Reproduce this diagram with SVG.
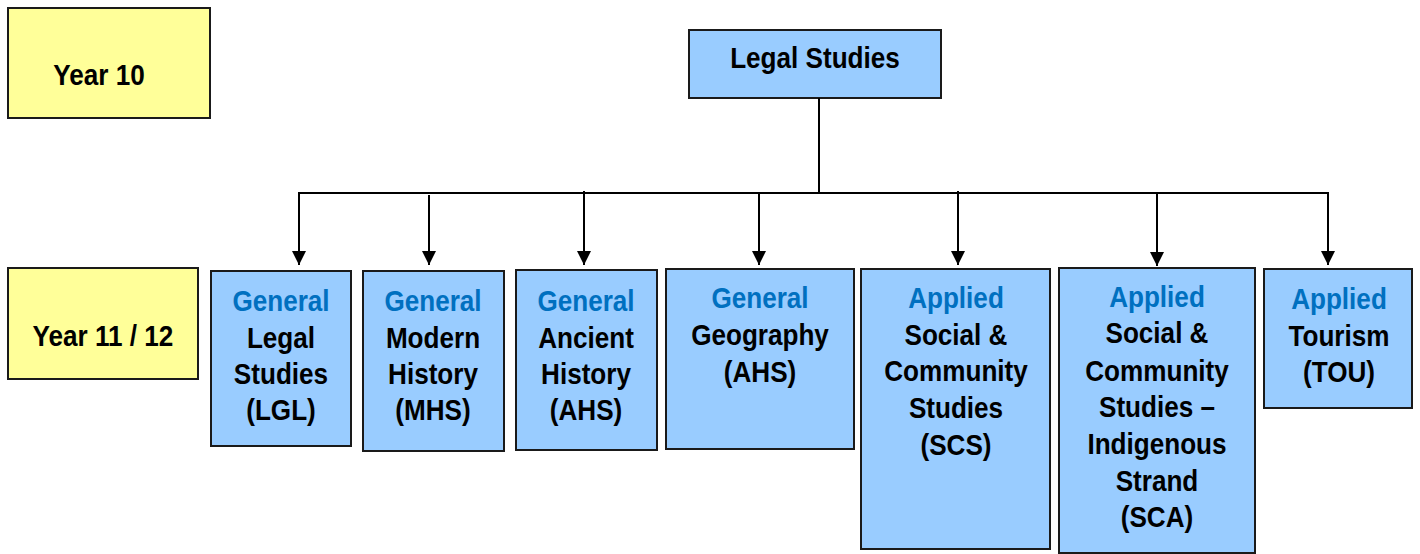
<svg xmlns="http://www.w3.org/2000/svg" width="1420" height="554" viewBox="0 0 1420 554">
<style>
.yr{fill:#FFFF99;stroke:#1a1a1a;stroke-width:2}
.bx{fill:#99CCFF;stroke:#1a1a1a;stroke-width:2}
text{font-family:"Liberation Sans",Arial,sans-serif;font-weight:bold;font-size:30px;text-anchor:middle;fill:#000;transform-box:fill-box;transform-origin:center;transform:scaleX(0.87)}
.bl{fill:#0070C0}
.ln{stroke:#000;stroke-width:2;fill:none}
</style>
<defs>
<marker id="ah" viewBox="0 0 10 10" refX="10" refY="5" markerWidth="14" markerHeight="16" markerUnits="userSpaceOnUse" orient="auto">
<path d="M0,0 L10,5 L0,10 Z" fill="#000"/>
</marker>
</defs>
<g id="year10"><rect class="yr" x="8" y="8" width="202" height="110"/><text x="99" y="85">Year 10</text></g>
<g id="year1112"><rect class="yr" x="8" y="268" width="190" height="111"/><text x="103" y="346">Year 11 / 12</text></g>
<g id="legal"><rect class="bx" x="689" y="30" width="252" height="68"/><text x="815" y="68">Legal Studies</text></g>
<g id="connectors">
<line class="ln" x1="819" y1="98" x2="819" y2="193"/>
<line class="ln" x1="298" y1="193" x2="1329" y2="193"/>
<line class="ln" x1="299" y1="193" x2="299" y2="265" marker-end="url(#ah)"/>
<line class="ln" x1="429" y1="195" x2="429" y2="265" marker-end="url(#ah)"/>
<line class="ln" x1="584" y1="191" x2="584" y2="265" marker-end="url(#ah)"/>
<line class="ln" x1="759" y1="193" x2="759" y2="265" marker-end="url(#ah)"/>
<line class="ln" x1="958" y1="191" x2="958" y2="265" marker-end="url(#ah)"/>
<line class="ln" x1="1157" y1="193" x2="1157" y2="266" marker-end="url(#ah)"/>
<line class="ln" x1="1328" y1="193" x2="1328" y2="265" marker-end="url(#ah)"/>
</g>
<g id="lgl"><rect class="bx" x="211" y="271" width="140" height="175"/>
<text class="bl" x="281" y="311">General</text><text x="281" y="348">Legal</text><text x="281" y="384">Studies</text><text x="281" y="420">(LGL)</text></g>
<g id="mhs"><rect class="bx" x="363" y="271" width="141" height="180"/>
<text class="bl" x="433" y="311">General</text><text x="433" y="348">Modern</text><text x="433" y="384">History</text><text x="433" y="420">(MHS)</text></g>
<g id="ahs"><rect class="bx" x="516" y="270" width="141" height="180"/>
<text class="bl" x="586" y="311">General</text><text x="586" y="348">Ancient</text><text x="586" y="384">History</text><text x="586" y="420">(AHS)</text></g>
<g id="geo"><rect class="bx" x="666" y="269" width="188" height="180"/>
<text class="bl" x="760" y="308">General</text><text x="760" y="345">Geography</text><text x="760" y="382">(AHS)</text></g>
<g id="scs"><rect class="bx" x="861" y="269" width="189" height="280"/>
<text class="bl" x="956" y="308">Applied</text><text x="956" y="345">Social &amp;</text><text x="956" y="381">Community</text><text x="956" y="418">Studies</text><text x="956" y="455">(SCS)</text></g>
<g id="sca"><rect class="bx" x="1059" y="268" width="196" height="285"/>
<text class="bl" x="1157" y="307">Applied</text><text x="1157" y="343">Social &amp;</text><text x="1157" y="381">Community</text><text x="1157" y="417">Studies –</text><text x="1157" y="454">Indigenous</text><text x="1157" y="491">Strand</text><text x="1157" y="527">(SCA)</text></g>
<g id="tou"><rect class="bx" x="1264" y="269" width="148" height="139"/>
<text class="bl" x="1339" y="309">Applied</text><text x="1339" y="346">Tourism</text><text x="1339" y="382">(TOU)</text></g>
</svg>
